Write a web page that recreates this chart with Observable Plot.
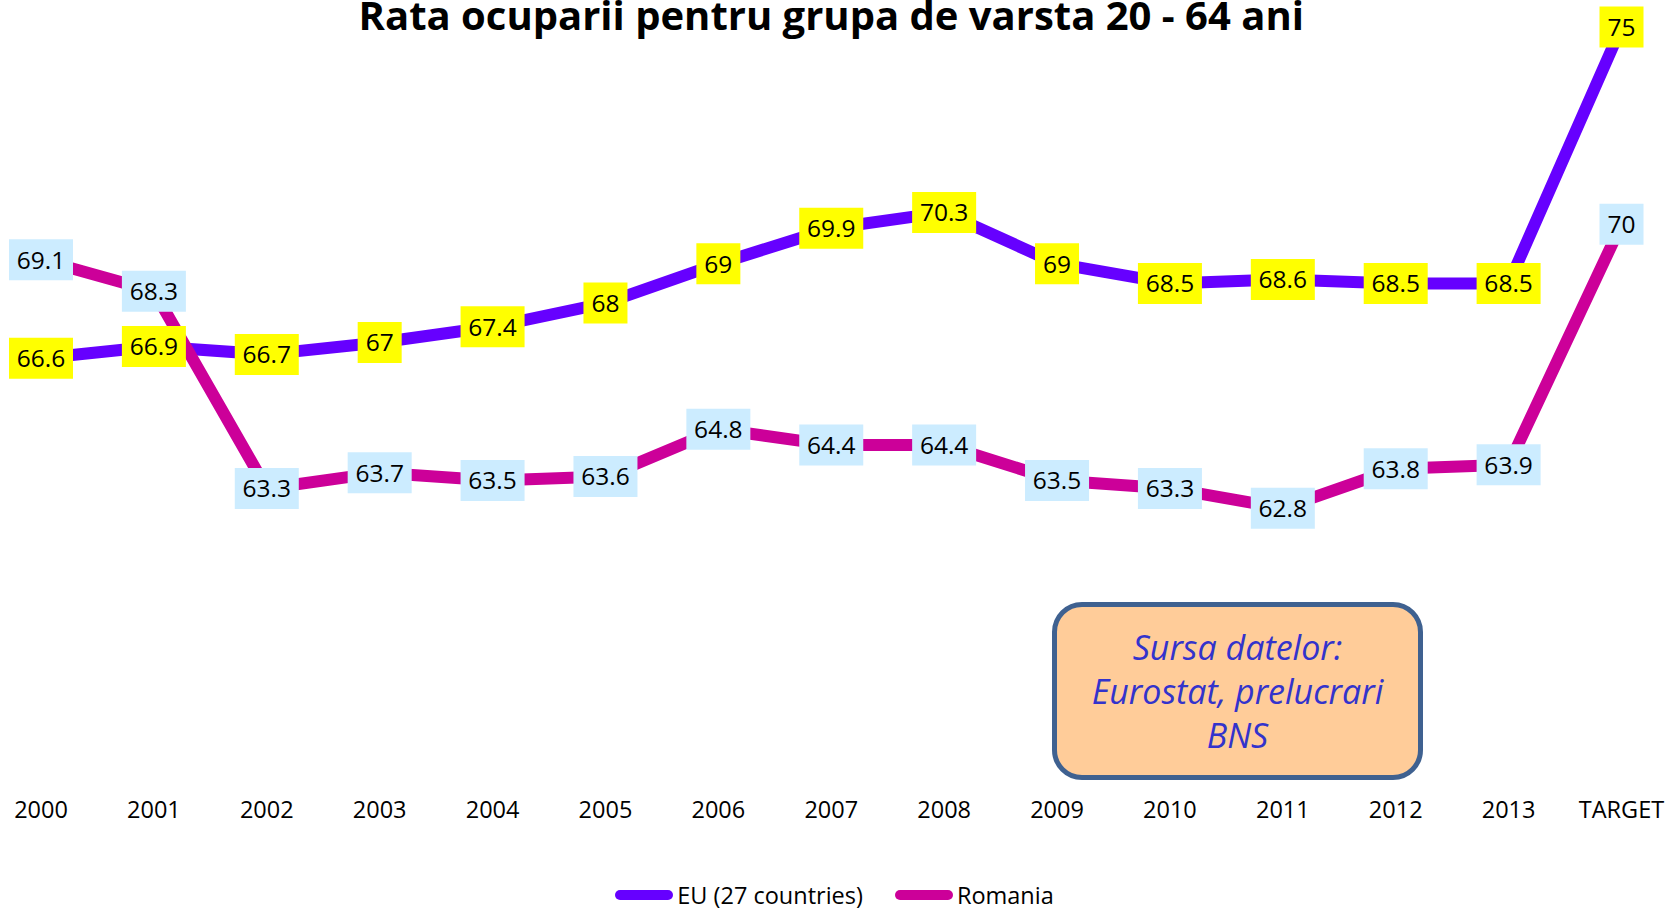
<!DOCTYPE html>
<html>
<head>
<meta charset="utf-8">
<script src="https://cdn.jsdelivr.net/npm/d3@7"></script>
<script src="https://cdn.jsdelivr.net/npm/@observablehq/plot@0.6"></script>
<style>
  html, body { margin: 0; padding: 0; background: #fff; }
  #wrap { position: relative; width: 1669px; height: 911px; overflow: hidden; font-family: "Open Sans", sans-serif; }
  #wrap svg { position: absolute; left: 0; top: 0; }
  #legend { position: absolute; left: 0; width: 1669px; top: 881px; height: 28px; line-height: 28px; display: flex; justify-content: center; align-items: center; font-size: 23.5px; color: #000; }
  #legend .sw { display: inline-block; width: 58px; height: 10px; border-radius: 5px; margin-right: 4px; }
  #legend .item { display: flex; align-items: center; margin: 0 16px; }
  #note { position: absolute; left: 1052px; top: 602px; width: 371px; height: 178px; box-sizing: border-box;
          border: 5px solid #3F6190; border-radius: 30px; background: #FFCC99; color: #3333CC;
          font-style: italic; font-size: 34px; line-height: 44px; text-align: center;
          display: flex; align-items: center; justify-content: center; }
</style>
</head>
<body>
<div id="wrap">
  <div id="legend"></div>
  <div id="note"><div>Sursa datelor:<br>Eurostat, prelucrari<br>BNS</div></div>
</div>
<script>
const title = "Rata ocuparii pentru grupa de varsta 20 - 64 ani";
const years = ["2000","2001","2002","2003","2004","2005","2006","2007","2008","2009","2010","2011","2012","2013","TARGET"];
const euValues = [66.6, 66.9, 66.7, 67, 67.4, 68, 69, 69.9, 70.3, 69, 68.5, 68.6, 68.5, 68.5, 75];
const roValues = [69.1, 68.3, 63.3, 63.7, 63.5, 63.6, 64.8, 64.4, 64.4, 63.5, 63.3, 62.8, 63.8, 63.9, 70];
const seriesNames = ["EU (27 countries)", "Romania"];
const seriesColors = ["#6600FF", "#CC0099"];
const boxColors = ["#FFFF00", "#CCECFF"];

const eu = years.map((year, i) => ({year, value: euValues[i]}));
const ro = years.map((year, i) => ({year, value: roValues[i]}));

const boxWide = {draw(ctx) { ctx.rect(-32, -20.5, 64, 41); }};
const boxNarrow = {draw(ctx) { ctx.rect(-22, -20.5, 44, 41); }};
const isWide = d => String(d.value).length > 2;
const isNarrow = d => String(d.value).length <= 2;

function labelMarks(data, fillColor) {
  return [
    Plot.dot(data, {x: "year", y: "value", symbol: boxWide, fill: fillColor, stroke: null, filter: isWide}),
    Plot.dot(data, {x: "year", y: "value", symbol: boxNarrow, fill: fillColor, stroke: null, filter: isNarrow}),
    Plot.text(data, {x: "year", y: "value", text: d => String(d.value), fill: "#000", fontSize: 24.5, dy: 1})
  ];
}

const chart = Plot.plot({
  width: 1669,
  height: 911,
  marginTop: 26.6,
  marginBottom: 135.2,
  marginLeft: 40.5,
  marginRight: 48,
  style: {fontFamily: "'Open Sans', sans-serif", fontSize: "23.5px", color: "#000", background: "transparent"},
  x: {type: "point", domain: years, padding: 0, round: false, tickSize: 0, tickPadding: 25, label: null},
  y: {domain: [56, 75], axis: null},
  marks: [
    Plot.line(eu, {x: "year", y: "value", stroke: seriesColors[0], strokeWidth: 12, strokeLinejoin: "round", strokeLinecap: "round"}),
    Plot.line(ro, {x: "year", y: "value", stroke: seriesColors[1], strokeWidth: 12, strokeLinejoin: "round", strokeLinecap: "round"}),
    ...labelMarks(eu, boxColors[0]),
    ...labelMarks(ro, boxColors[1]),
    Plot.text([title], {frameAnchor: "top", lineAnchor: "bottom", dy: 3, fontSize: 40, fontWeight: "bold", fill: "#000"})
  ]
});

const wrap = document.getElementById("wrap");
wrap.insertBefore(chart, wrap.firstChild);

const legend = document.getElementById("legend");
seriesNames.forEach((name, i) => {
  const item = document.createElement("div");
  item.className = "item";
  const sw = document.createElement("span");
  sw.className = "sw";
  sw.style.background = seriesColors[i];
  const label = document.createElement("span");
  label.textContent = name;
  item.appendChild(sw);
  item.appendChild(label);
  legend.appendChild(item);
});
</script>
</body>
</html>
